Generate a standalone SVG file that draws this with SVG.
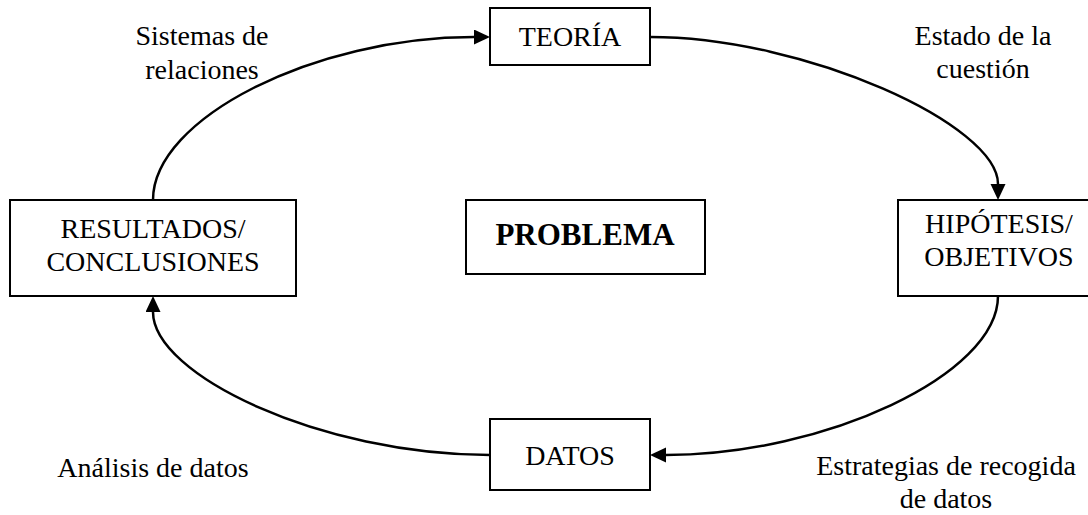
<svg xmlns="http://www.w3.org/2000/svg" width="1088" height="515" viewBox="0 0 1088 515">
  <style>
    .box { fill: #ffffff; stroke: #000000; stroke-width: 2; }
    .lbl { font-family: "Liberation Serif", "Times New Roman", serif; font-size: 28px; fill: #000000; text-anchor: middle; }
    .bold { font-weight: bold; font-size: 31px; }
    .link { fill: none; stroke: #000000; stroke-width: 2.5; marker-end: url(#head); }
  </style>
  <defs>
    <marker id="head" markerUnits="userSpaceOnUse" markerWidth="17" markerHeight="16" refX="0" refY="7.5" orient="auto">
      <path d="M0,0 L16,7.5 L0,15 Z" fill="#000000"/>
    </marker>
  </defs>
  <rect width="1088" height="515" fill="#ffffff"/>

  <!-- cycle connectors -->
  <g id="connectors">
    <path class="link" d="M153,200 C153,118 315,37 474,37"/>
    <path class="link" d="M650,37 C806,37 998,125 998,184"/>
    <path class="link" d="M998,296 C998,375 824,455 666,455"/>
    <path class="link" d="M490,455 C321,455 153,375 153,312"/>
  </g>

  <g id="teoria">
    <rect class="box" x="490" y="8" width="160" height="57"/>
    <text class="lbl" x="570" y="46">TEORÍA</text>
  </g>

  <g id="hipotesis">
    <rect class="box" x="898" y="200" width="202" height="96"/>
    <text class="lbl" x="999" y="233">HIPÓTESIS/</text>
    <text class="lbl" x="999" y="266">OBJETIVOS</text>
  </g>

  <g id="datos">
    <rect class="box" x="490" y="419" width="160" height="71"/>
    <text class="lbl" x="570" y="465">DATOS</text>
  </g>

  <g id="resultados">
    <rect class="box" x="10" y="200" width="286" height="96"/>
    <text class="lbl" x="153" y="238">RESULTADOS/</text>
    <text class="lbl" x="153" y="271">CONCLUSIONES</text>
  </g>

  <g id="problema">
    <rect class="box" x="466" y="200" width="239" height="74"/>
    <text class="lbl bold" x="585" y="245">PROBLEMA</text>
  </g>

  <!-- transition labels -->
  <g id="labels">
    <text class="lbl" x="202" y="45">Sistemas de</text>
    <text class="lbl" x="202" y="79">relaciones</text>
    <text class="lbl" x="983" y="45">Estado de la</text>
    <text class="lbl" x="983" y="78">cuestión</text>
    <text class="lbl" x="946" y="475">Estrategias de recogida</text>
    <text class="lbl" x="946" y="508">de datos</text>
    <text class="lbl" x="153" y="477">Análisis de datos</text>
  </g>
</svg>
